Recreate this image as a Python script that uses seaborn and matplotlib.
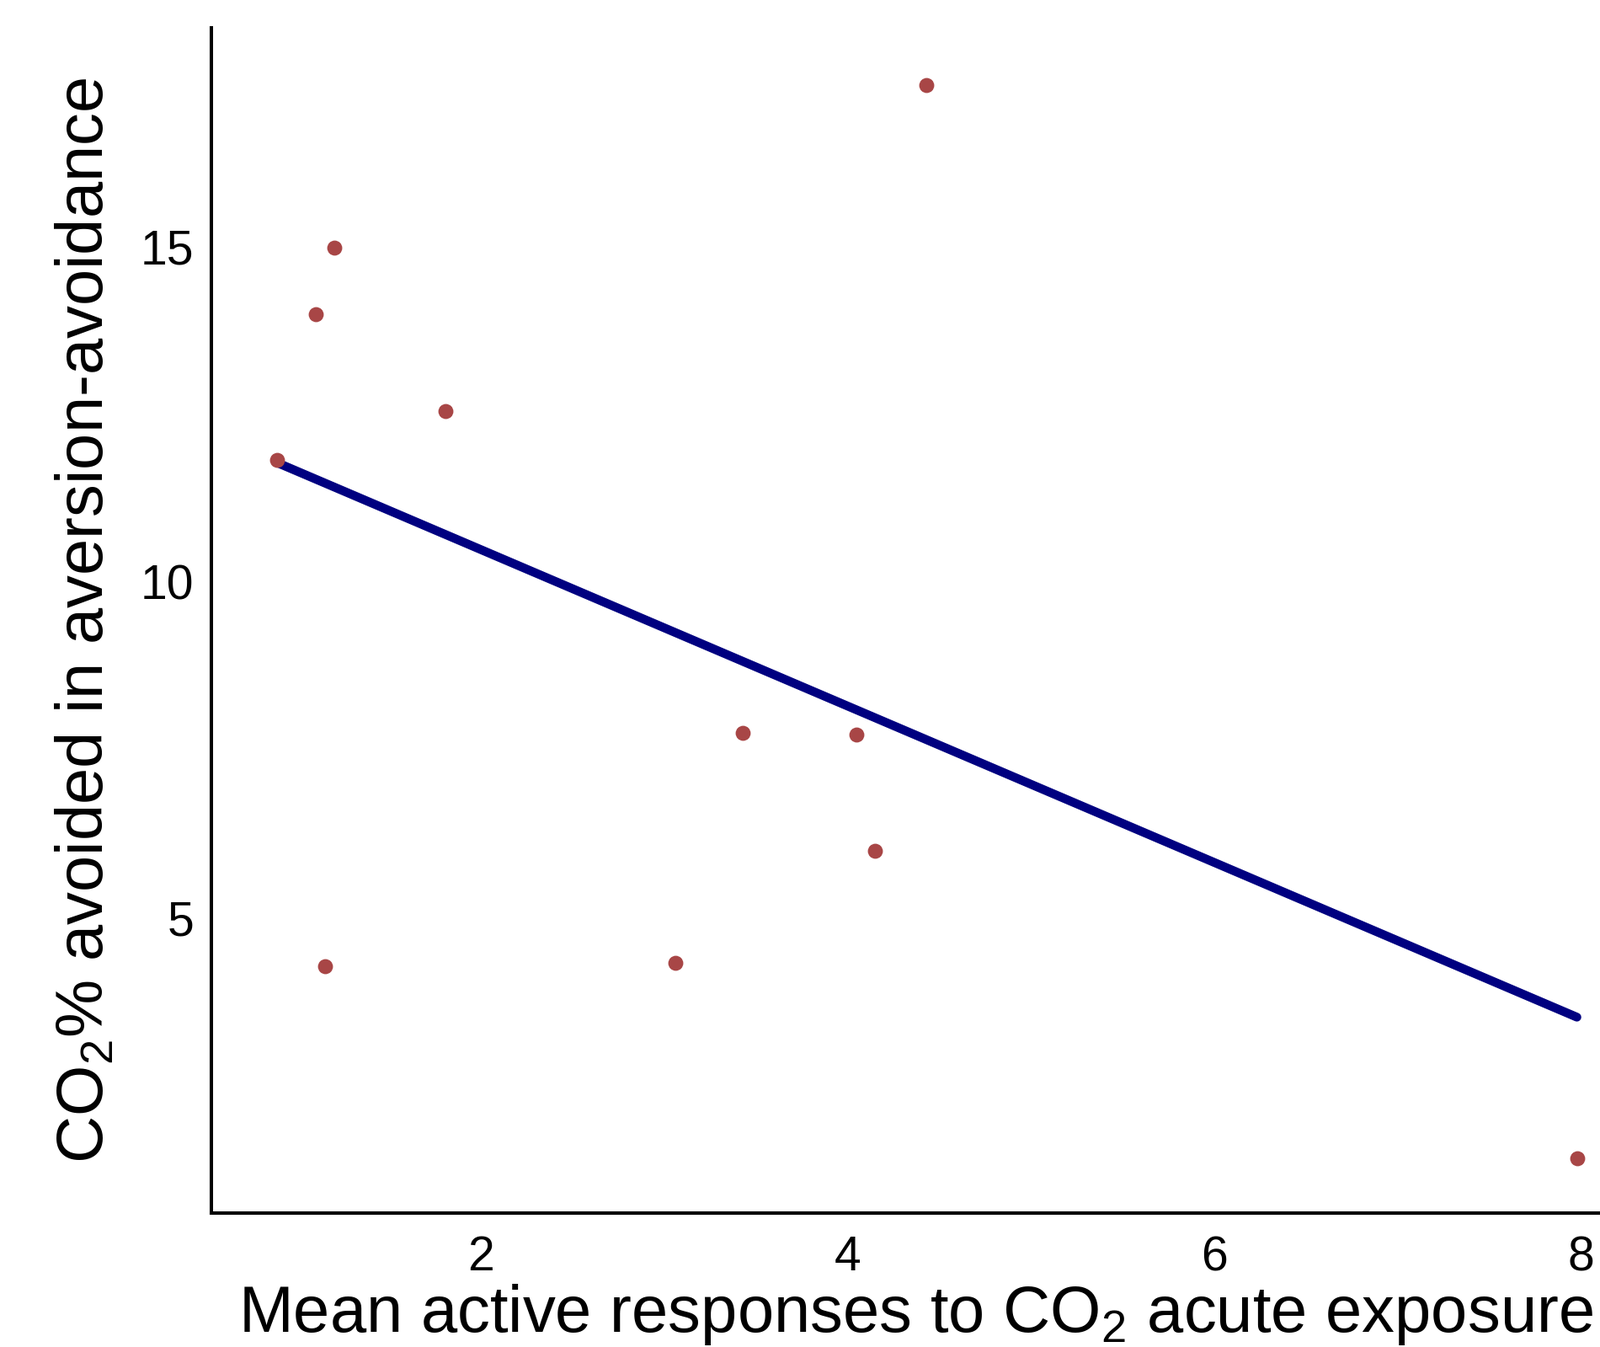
import matplotlib
matplotlib.use("Agg")
import matplotlib.pyplot as plt
import seaborn as sns
import pandas as pd

# Mean active responses vs CO2 % avoided
active_responses = [0.89, 1.10, 1.20, 1.15, 1.81, 3.06, 3.43, 4.05, 4.15, 4.43, 7.98]
co2_avoided = [11.82, 13.98, 14.97, 4.27, 12.54, 4.33, 7.75, 7.72, 6.00, 17.40, 1.41]

x_ticks = [2, 4, 6, 8]
y_ticks = [5, 10, 15]

df = pd.DataFrame({"active": active_responses, "avoided": co2_avoided})

sns.set_style("white")
plt.rcParams["font.family"] = ["Liberation Sans", "DejaVu Sans"]
plt.rcParams["mathtext.default"] = "regular"
plt.rcParams["text.color"] = "black"
plt.rcParams["axes.labelcolor"] = "black"

fig = plt.figure(figsize=(19, 15.99), dpi=100)
ax = fig.add_axes([0.1321, 0.0994, 0.8679, 0.88])

sns.regplot(
    data=df,
    x="active",
    y="avoided",
    ci=None,
    ax=ax,
    scatter_kws={"s": 165, "color": "#A84646", "linewidths": 0, "alpha": 1, "zorder": 3},
    line_kws={"color": "#000080", "linewidth": 7.5, "zorder": 2},
)

ax.set_xlim(0.531, 8.106)
ax.set_ylim(0.60, 18.25)
ax.set_xticks(x_ticks)
ax.set_yticks(y_ticks)

sns.despine(ax=ax)
for side in ["left", "bottom"]:
    ax.spines[side].set_color("black")
    ax.spines[side].set_linewidth(2.9)

ax.tick_params(axis="both", length=2, width=1, colors="black", labelsize=41)
ax.tick_params(axis="x", pad=17)
ax.tick_params(axis="y", pad=13)

ax.set_xlabel("Mean active responses to CO$_2$ acute exposure", fontsize=56, labelpad=1)
ax.set_ylabel("CO$_2$% avoided in aversion-avoidance", fontsize=56, labelpad=20)
ax.xaxis.label.set_x(0.507)

fig.savefig("out.png", dpi=100)
